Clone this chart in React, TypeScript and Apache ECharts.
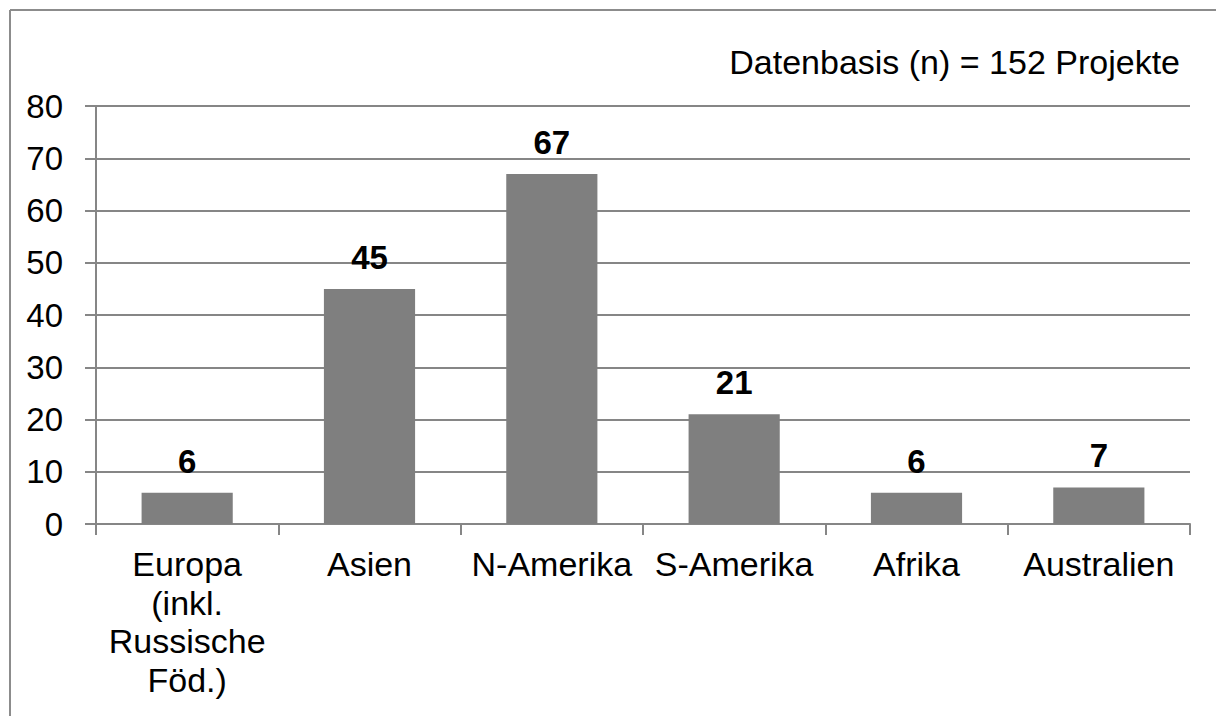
import React, { useEffect, useRef } from "react";
import * as echarts from "echarts";

const categories = ["Europa\n(inkl.\nRussische\nFöd.)", "Asien", "N-Amerika", "S-Amerika", "Afrika", "Australien"];
const values = [6, 45, 67, 21, 6, 7];
const yTicks = { min: 0, max: 80, interval: 10 };
const note = "Datenbasis (n) = 152 Projekte";

const FONT = "'Liberation Sans', Arial, sans-serif";

export default function App() {
  const ref = useRef<HTMLDivElement>(null);
  useEffect(() => {
    if (!ref.current) return;
    const chart = echarts.init(ref.current, undefined, { renderer: "svg" });
    chart.setOption({
      animation: false,
      backgroundColor: "#ffffff",
      grid: { left: 96, right: 26, top: 106, bottom: 192, containLabel: false },
      graphic: [
        { type: "line", shape: { x1: 10, y1: 10, x2: 1216, y2: 10 }, style: { stroke: "#8c8c8c", lineWidth: 2 } },
        { type: "line", shape: { x1: 10, y1: 10, x2: 10, y2: 716 }, style: { stroke: "#8c8c8c", lineWidth: 2 } },
        {
          type: "text",
          x: 1180,
          y: 62,
          style: { text: note, font: `34px ${FONT}`, fill: "#000", align: "right", verticalAlign: "middle" },
        },
      ],
      xAxis: {
        type: "category",
        data: categories,
        axisLine: { lineStyle: { color: "#868686", width: 2 } },
        axisTick: { show: true, length: 11, alignWithLabel: false, lineStyle: { color: "#868686", width: 2 } },
        axisLabel: { color: "#000", fontSize: 34, fontFamily: FONT, lineHeight: 38.5, margin: 21, interval: 0 },
      },
      yAxis: {
        type: "value",
        min: yTicks.min,
        max: yTicks.max,
        interval: yTicks.interval,
        axisLine: { show: true, lineStyle: { color: "#868686", width: 2 } },
        axisTick: { show: true, length: 11, lineStyle: { color: "#868686", width: 2 } },
        axisLabel: { color: "#000", fontSize: 33, fontFamily: FONT, margin: 33 },
        splitLine: { show: true, lineStyle: { color: "#868686", width: 2 } },
      },
      series: [
        {
          type: "bar",
          data: values,
          barWidth: "50%",
          itemStyle: { color: "#7f7f7f" },
          label: {
            show: true,
            position: "top",
            distance: 15,
            color: "#000",
            fontSize: 33,
            fontWeight: "bold",
            fontFamily: FONT,
          },
        },
      ],
    });
    return () => chart.dispose();
  }, []);
  return <div ref={ref} style={{ width: 1216, height: 716, position: "absolute", left: 0, top: 0 }} />;
}
